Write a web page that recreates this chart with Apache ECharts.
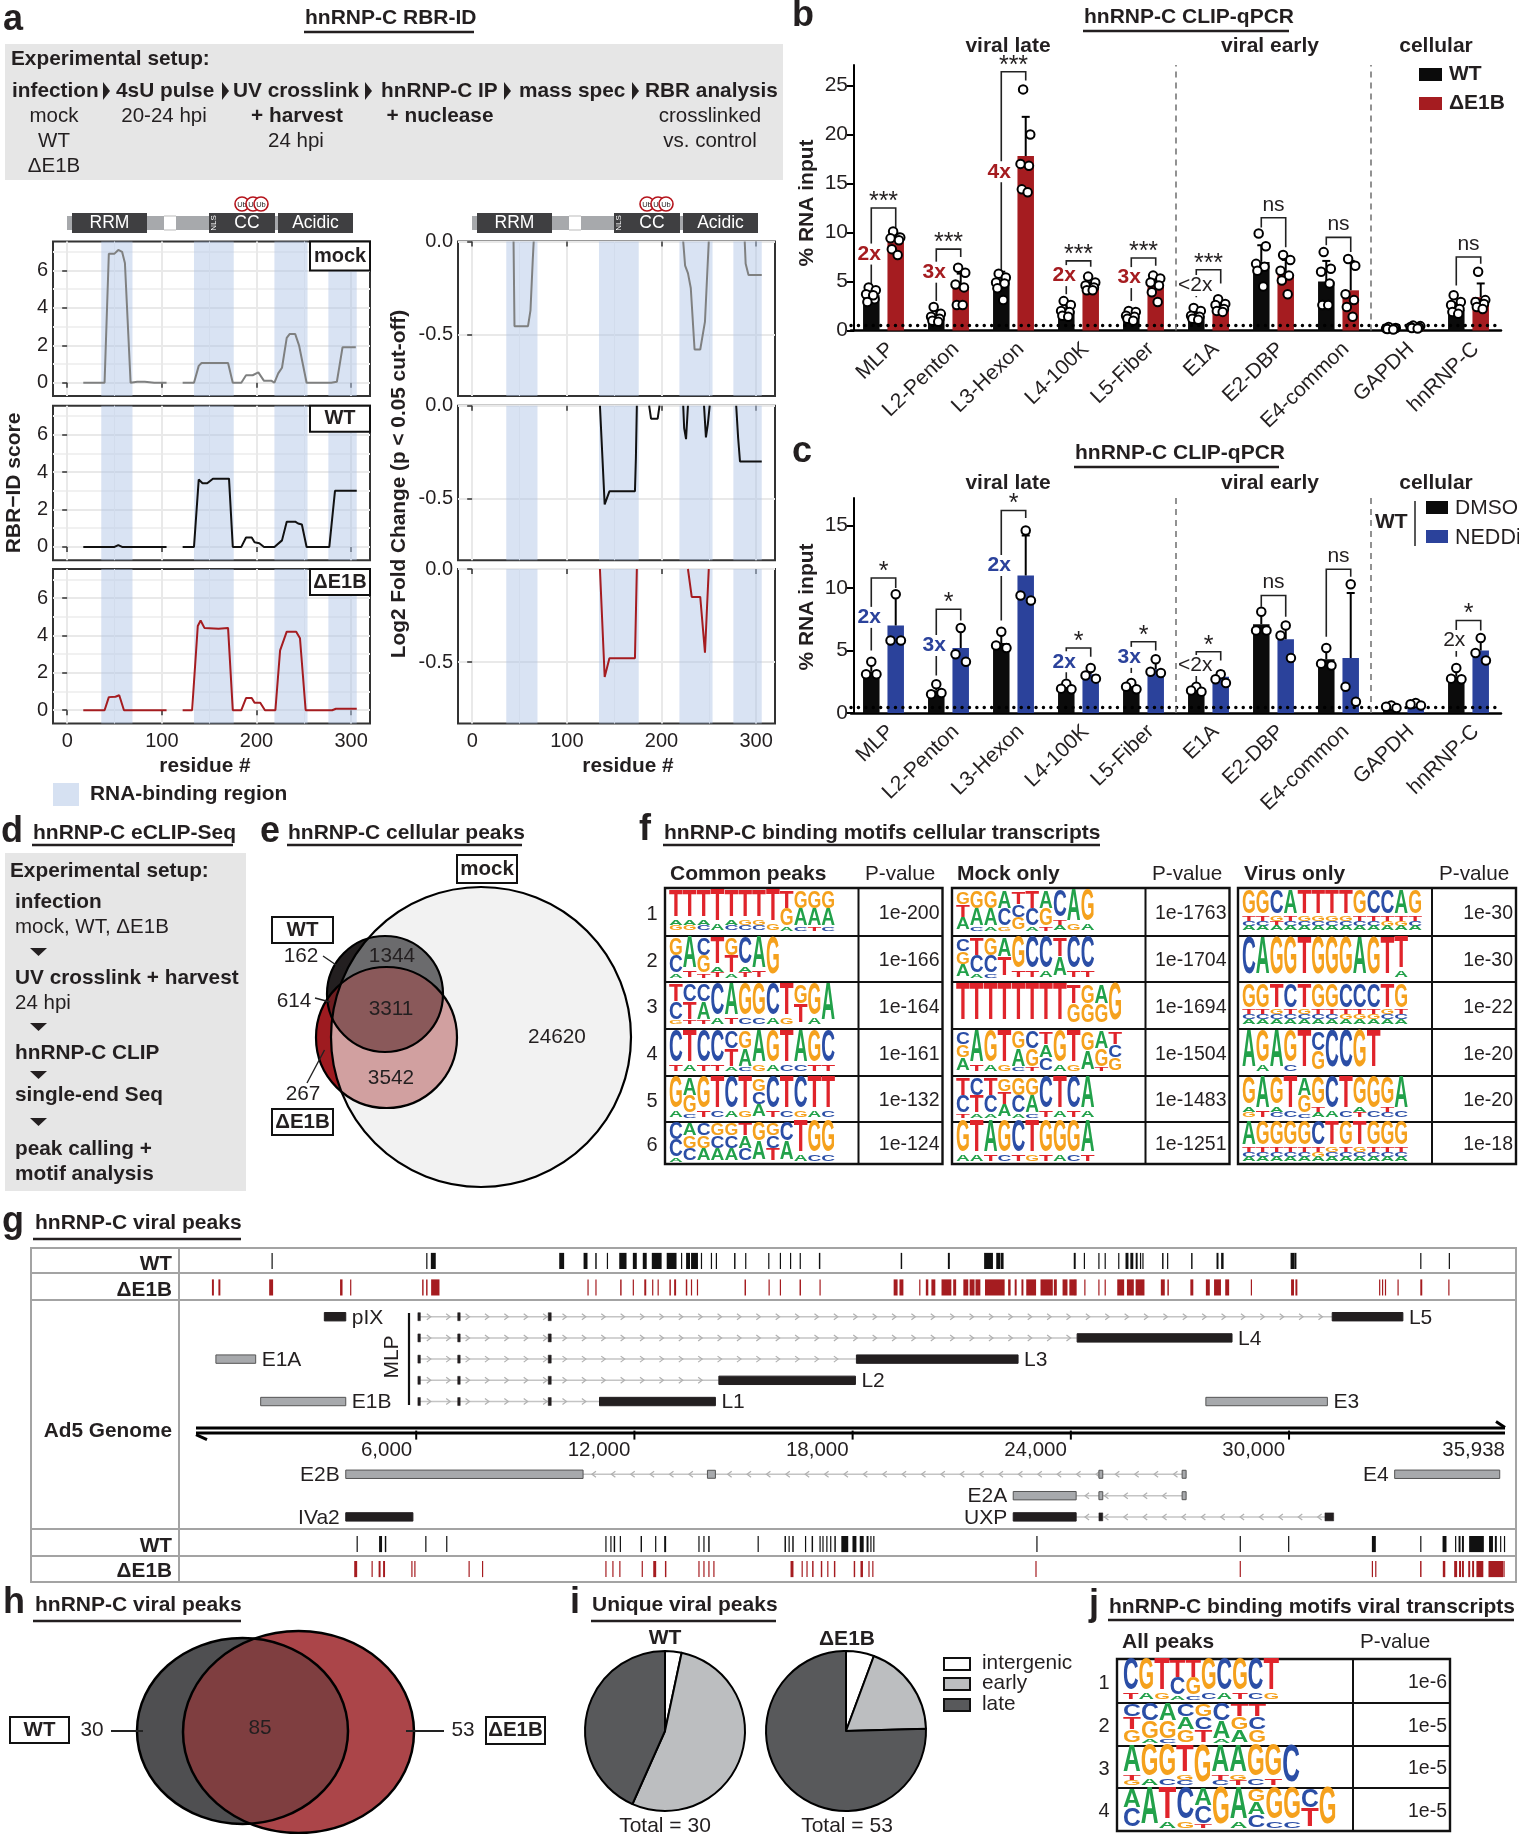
<!DOCTYPE html>
<html><head><meta charset="utf-8"><title>hnRNP-C figure</title>
<script src="https://cdn.jsdelivr.net/npm/echarts@6/dist/echarts.min.js"></script>
<style>html,body{margin:0;padding:0;background:#fff}#c{width:1519px;height:1834px}</style></head>
<body><div id="c"></div>
<script>
// ---------- panel a data ----------
const rbdStart=[36,134,219,276], rbdEnd=[69,176,254,306];
const rbrMock=[[17,0],[39.5,0],[44,6.9],[50,6.9],[54,7.1],[58,7.0],[61,6.4],[67,0],[74,.05],[82,.05],[92,0],[105,0],[113,null],[122,0],[134,0],[139,.9],[142,1.05],[170,1.05],[175,0],[184,0],[189,.4],[196,.4],[202,.55],[208,.1],[216,.1],[219,0],[223,.5],[227,.8],[232,2.4],[235,2.6],[241,2.6],[245,2.0],[247,2.0],[253,0],[279,0],[285,.05],[291,1.9],[305,1.9]];
const rbrWT=[[17,0],[50,0],[54,.1],[58,0],[105,0],[113,null],[122,0],[134,0],[139,3.6],[143,3.4],[148,3.4],[154,3.65],[171,3.65],[175,0],[184,0],[189,.5],[195,.5],[198,.25],[203,.2],[208,0],[219,0],[227,.35],[232,1.35],[241,1.35],[244,1.25],[248,1.2],[253,0],[277,0],[283,3.0],[306,3.0]];
const rbrDE=[[17,0],[39.5,0],[44,.7],[51,.72],[55,.8],[60,0],[105,0],[113,null],[122,0],[132,0],[134,.1],[138,4.5],[141,4.8],[145,4.4],[160,4.35],[170,4.4],[175,0],[184,0],[189,.65],[195,.65],[198,.4],[204,.4],[209,0],[220,0],[225,3.2],[227,3.2],[232,4.2],[242,4.2],[246,3.85],[248,3.85],[252,0],[280,0],[284,.08],[306,.08]];
const fcMock=[[43.7,0],[44.7,-.455],[59,-.455],[61.6,-.37],[64,-.1],[65,0],[140,null],[223,0],[225,-.13],[228,-.17],[231,-.25],[235,-.58],[241,-.58],[246,-.43],[248,-.43],[250,0],[270,null],[288,0],[289,-.12],[292,-.18],[306,-.18]];
const fcWT=[[135,0],[140,-.53],[145,-.46],[172,-.46],[173,-.28],[174,0],[180,null],[187,0],[189,-.07],[196,-.07],[198,0],[210,null],[223,0],[224,-.12],[226,-.18],[228,0],[236,null],[245,0],[247,-.17],[249,-.1],[251,0],[265,null],[279,0],[281,-.17],[283,-.3],[306,-.3]];
const fcDE=[[135,0],[140,-.58],[145,-.48],[172,-.48],[174,0],[200,null],[228,0],[232,-.15],[241,-.15],[246,-.45],[247,-.46],[250,0]];
// ---------- panels b, c data ----------
const cats=['MLP','L2-Penton','L3-Hexon','L4-100K','L5-Fiber','E1A','E2-DBP','E4-common','GAPDH','hnRNP-C'];
const bTicks=[0,5,10,15,20,25], cTicks=[0,5,10,15];
const bWT=[3.6,1.5,5.1,2.0,1.5,1.5,7.0,5.0,.2,2.1];
const bDE=[9.0,4.4,17.8,4.4,4.7,2.5,5.7,4.1,.3,3.4];
const bWTsd=[.6,.6,.9,.6,.4,.4,1.7,2.1,.1,.7];
const bDEsd=[.9,1.4,4.0,.5,.9,.5,1.5,3.0,.1,1.4];
const bWTpts=[[4.4,4.1,3.7,3.2,2.9,3.6],[2.4,1.7,1.4,1.2,1.0,.9],[5.8,5.4,4.9,4.8,4.3,3.1],[3.0,2.6,2.0,1.9,1.5,1.4],[2.0,1.9,1.5,1.4,1.2,1.0],[2.3,2.0,1.5,1.4,1.2,1.1],[9.9,8.6,6.8,6.5,6.1,4.5],[8.0,6.3,6.0,4.8,2.6,2.6],[.35,.25,.2,.2,.15,.1],[3.6,2.9,2.6,2.2,1.9,1.7]];
const bDEpts=[[10.1,9.5,9.4,9.2,8.3,7.7],[6.4,5.9,4.7,4.4,2.6,2.6],[24.6,20,17,16.8,14.4,14.1],[5.5,4.9,4.6,4.4,4.1,4.1],[5.6,5.3,4.9,4.6,3.9,2.9],[3.2,2.7,2.6,2.2,2.0,1.9],[7.7,7.2,6.1,5.6,5.1,3.7],[7.3,6.6,3.7,3.1,2.4,1.4],[.5,.45,.35,.3,.25,.2],[6.0,3.1,2.9,2.7,2.4,2.2]];
const bBrTop=[12.5,8.3,26.4,7.1,7.4,6.2,11.5,9.5,null,7.5];
const bBrL=[4.75,3.0,6.1,3.7,3.0,3.4,10.5,8.7,null,4.6];
const bBrR=[10.5,7.5,25.5,6.5,6.6,4.8,8.5,8.0,null,6.8];
const bSig=['***','***','***','***','***','***','ns','ns','','ns'];
const bFold=['2x','3x','4x','2x','3x','<2x','','','',''];
const bFoldY=[7.8,5.95,16.2,5.6,5.4,4.6,0,0,0,0];
const cWT=[3.3,1.8,5.6,2.0,2.0,1.9,7.1,4.3,.4,2.9];
const cNE=[7.0,5.2,11.0,3.1,3.5,2.9,5.9,4.4,.6,5.0];
const cWTsd=[.9,.5,.7,.3,.3,.3,1.0,1.0,.1,.7];
const cNEsd=[2.5,1.5,3.2,.5,.7,.4,1.3,5.2,.1,.9];
const cWTpts=[[4.1,3.1,3.1],[2.3,1.5,1.6],[6.5,5.4,5.2],[2.35,1.95,1.9],[2.4,2.1,1.9],[2.1,1.8,1.7],[8.1,6.6,6.6],[5.2,3.95,3.8],[.6,.5,.4],[3.6,2.75,2.7]];
const cNEpts=[[9.5,5.8,5.8],[6.8,4.7,4.1],[14.6,9.4,9.0],[3.6,3.0,2.75],[4.3,3.3,3.2],[3.1,2.7,2.4],[7.0,6.2,4.4],[10.3,2.1,.9],[.8,.7,.6],[6.0,4.8,4.2]];
const cBrTop=[10.8,8.3,16.2,5.2,5.7,4.9,9.4,11.5,null,7.4];
const cBrL=[5.0,3.0,7.4,2.75,3.2,2.2,8.5,6.1,null,4.5];
const cBrR=[10,7.4,15.6,4.5,5.0,4.2,7.7,10.9,null,6.6];
const cSig=['*','*','*','*','*','*','ns','ns','','*'];
const cFold=['2x','3x','2x','2x','3x','<2x','','','','2x'];
const cFoldY=[7.65,5.4,11.8,4.1,4.45,3.8,0,0,0,5.8];
const cFoldBlack=[0,0,0,0,0,1,0,0,0,1];
// ---------- panel e, h, i data ----------
const vennEcx=[181,85,86.5], vennEcy=[157,114,157.5], vennEr=[150,58,70.5];
const vennHcx=[112.5,168.5], vennHcy=[101,102], vennHrx=[105.5,115.5], vennHry=[93,101];
const pieNames=['intergenic','early','late'];
const pieWT=[1,16,13], pieDE=[3,10,40];
// ---------- panels f, j data (letter columns: upper = large, lower = small) ----------
const motifCommon=['Tag Tag Tac Ta Tac Tgc Tgc Tg TGa GAc GAt GAc','GCa At CGt Tat GTa Cat At G','TCg CTt CAt Ca At Gc Gc Ca Tg GT Ga A','Ct Ta Ct Ct CTa GAc Ag Ga Tc Ac Gt Ct','Ga AGc Gt Tc Ca Tg GCA Ct Tc Cg Ta Tc','CCa AGC CGA GCA GCA TAC GA GCT CA Ta Gc Gc'];
const motifMock=['GTA GAc GAa ACg TCG TCa AGt Cta Ag Ga','CGA TCa GCc AT Gt Ct Ca TA Ct Ct','T T T T T T T T TG GG AG G','CGA At Ga Tg GAc CGt TAC Ga Tg GA AGt TCG','TCt CTa TCa GTA GCa GAc Ct Ta Ct Aa','Ga Ta At Gc Ct Tg Gt Ga Gc At'];
const motifVirus=['Gtca Gtca Cgta Atca Tgca Tgca Tgca Tgca Gtca Ctca Ctga Atga Gtca','C A G G T G G G A G T Ta','Gtca Gtca Tgca Ctca Tgca Gtca Gtca Ctga Ctga Ctga Tgca Gtca','A Ga A Gc T CG C C G T','Gag At Gac Tc AGc Gta Ca Tc Gat Gc Gtc Ac','Atca Gtca Gtca Gtca Gtca Ctga Tgca Gtca Tgca Gtca Gtca Gtca'];
const motifViral=['Ct Ga Tg TCa TGc Gc Ca Gt Cc Tg','CTG CGa AGc CAG GCT CAa TGA TCG','Atg Ga Gc Tgc G Atc Agt Gc Gt C','AC A Ta Cg ACt G Aa GAC Gc Gc CT G'];
const pCommon=['1e-200','1e-166','1e-164','1e-161','1e-132','1e-124'];
const pMock=['1e-1763','1e-1704','1e-1694','1e-1504','1e-1483','1e-1251'];
const pVirus=['1e-30','1e-30','1e-22','1e-20','1e-20','1e-18'];
const pViral=['1e-6','1e-5','1e-5','1e-5'];
// ---------- panel g data (genome position, peak width in bp) ----------
const peaksTopWT=[[2038,20],[6292,14],[6470,135],[10000,135],[10656,108],[10943,40],[11258,27],[11683,200],[12011,108],[12284,108],[12613,270],[13023,270],[13297,27],[13475,108],[13652,190],[13844,14],[14118,27],[14254,27],[14760,40],[15061,27],[15695,27],[16014,27],[16294,27],[16560,27],[17092,40],[19342,40],[20646,54],[21737,243],[22003,108],[22110,81],[24107,54],[24373,27],[24772,27],[24945,27],[25318,27],[25544,81],[25677,81],[25810,54],[25917,27],[25983,27],[26529,40],[26662,27],[27327,40],[28033,54],[28166,68],[30096,108],[30176,54],[33623,27],[34408,27]];
const peaksTopDE=[[410,54],[588,54],[2011,108],[3940,68],[4199,27],[6183,40],[6292,40],[6525,230],[10725,14],[10943,14],[11628,40],[11970,27],[12298,54],[12503,27],[12653,27],[12982,40],[13119,54],[13433,40],[13570,27],[13734,27],[15048,40],[15704,27],[16014,27],[16560,40],[17105,27],[19182,108],[19342,108],[19847,27],[20047,68],[20220,108],[20579,270],[20806,81],[21112,135],[21285,135],[21445,135],[21910,540],[22310,68],[22483,54],[22669,54],[22909,270],[23335,338],[23574,81],[23840,135],[24040,162],[24133,54],[24386,14],[24772,27],[24945,27],[25371,190],[25637,190],[25903,243],[26529,108],[26675,40],[27327,81],[27767,108],[28033,190],[28299,108],[28965,14],[30096,81],[30202,54],[32492,27],[32572,27],[32652,27],[32998,14],[33636,54],[34395,27]];
const peaksBotWT=[[4377,14],[5020,81],[5157,40],[6265,27],[6840,14],[11217,14],[11354,27],[11450,40],[11614,27],[12189,40],[12585,27],[12845,54],[13775,27],[13912,27],[14049,40],[15403,14],[16147,40],[16254,27],[16360,40],[16706,27],[16892,40],[17105,14],[17185,27],[17292,27],[17398,27],[17518,40],[17784,190],[18050,108],[18250,108],[18410,54],[18503,27],[18583,27],[23068,14],[28659,14],[29990,14],[32332,108],[33623,27],[34275,108],[34581,27],[34688,54],[34781,54],[35154,405],[35553,108],[35686,54],[35819,27],[35925,14]];
const peaksBotDE=[[4336,81],[4788,14],[4993,54],[5116,54],[5882,27],[5964,14],[7455,14],[7825,14],[11217,27],[11409,27],[11600,27],[12216,14],[12558,81],[12859,40],[13775,27],[13912,27],[14049,27],[14186,27],[16333,81],[16613,27],[16746,27],[16906,40],[17145,40],[17318,27],[17505,40],[18050,40],[18250,68],[18450,27],[18556,27],[23042,14],[28659,14],[32292,14],[32385,14],[33623,40],[34262,68],[34581,81],[34701,54],[34781,54],[34954,54],[35061,54],[35247,190],[35686,405],[35859,27],[35912,14]];
const geneNames=['E1A','E1B','pIX','IVa2','E2B','L1','L2','L3','L4','L5','E3','E4','E2A','UXP'];
const geneStart=[492,1723,3474,4063,4063,11040,14322,18104,24173,31187,27713,32904,22416,22416];
const geneEnd=[1586,4063,4063,5909,10588,14227,18077,22549,28432,33130,31054,35793,24146,24146];
const geneRow=[2,4,0,9.44,7.43,4,3,2,1,0,4,7.43,8.44,9.44];
const geneGray=[1,1,0,0,1,0,0,0,0,0,1,1,1,0];
const geneLabelLeft=[0,0,0,1,1,0,0,0,0,0,0,1,1,1];
const exons=[[6046,6101,0,0],[7141,7209,0,0],[9630,9713,0,0],[6046,6101,1,0],[7141,7209,1,0],[9630,9713,1,0],[6046,6101,2,0],[7141,7209,2,0],[9630,9713,2,0],[6046,6101,3,0],[7141,7209,3,0],[9630,9713,3,0],[6046,6101,4,0],[7141,7209,4,0],[9630,9713,4,0],[14008,14227,7.43,1],[24772,24878,7.43,1],[27060,27170,7.43,1],[24772,24878,8.44,1],[27060,27170,8.44,1],[24772,24878,9.44,0],[30987,31227,9.44,0]];
const introns=[[6046,31187,0,1],[6046,24173,1,1],[6046,18104,2,1],[6046,14322,3,1],[6046,11040,4,1],[10588,27170,7.43,-1],[24146,27170,8.44,-1],[24146,31227,9.44,-1]];
const genomeTicks=[6000,12000,18000,24000,30000,35938];
const genomeTickLabels=['6,000','12,000','18,000','24,000','30,000','35,938'];

// ---------- styling ----------
const FF='"Liberation Sans"', INK='#231f20', RED='#a51c20', BLUE='#2b429b', BAND='rgba(176,197,230,.48)';
const grids=[],xAxes=[],yAxes=[],series=[],G=[];
function font(o){return (o.i?'italic ':'')+(o.b?'bold ':'')+(o.s||20.5)+'px '+FF;}
function T(x,y,s,o){o=o||{};G.push({type:'text',x:x,y:y,rotation:o.rot||0,silent:true,z:50,style:{text:s,fill:o.c||INK,font:font(o),align:o.a||'left',verticalAlign:'middle'}});}
function R(x,y,w,h,fill,stroke,lw){G.push({type:'rect',silent:true,z:50,shape:{x:x,y:y,width:w,height:h},style:{fill:fill||'none',stroke:stroke||'none',lineWidth:lw||1}});}
function L(x1,y1,x2,y2,c,lw){G.push({type:'line',silent:true,z:50,shape:{x1:x1,y1:y1,x2:x2,y2:y2},style:{stroke:c||INK,lineWidth:lw||2}});}
function Tri(pts,c){G.push({type:'polygon',silent:true,z:50,shape:{points:pts},style:{fill:c||INK}});}
function Circ(x,y,r,fill,stroke,lw){G.push({type:'circle',silent:true,z:50,shape:{cx:x,cy:y,r:r},style:{fill:fill,stroke:stroke,lineWidth:lw}});}
function title(x1,x2,y,uy,s,tx){T(tx!==undefined?tx:x1+1,y,s,{b:1,s:21});L(x1,uy,x2,uy,INK,2.5);}
function letter(x,y,s){T(x,y,s,{b:1,s:36,a:'center'});}

// ---------- panel a charts ----------
function rbrPanel(left,top,data,color,isRight,showX){
  const g=grids.push({left:left,top:top,width:317,height:154.5,show:true,borderColor:'#333',borderWidth:2,backgroundColor:'transparent'})-1;
  const xMaj={type:'value',gridIndex:g,min:-15,max:320,position:'bottom',axisLine:{show:false},
    axisTick:{show:true,length:5,lineStyle:{color:'#333',width:1.5},customValues:[0,100,200,300]},
    axisLabel:{show:showX,customValues:[0,100,200,300],fontSize:20,fontFamily:FF,color:INK,margin:8},
    splitLine:{show:true,lineStyle:{color:'#e9e9e9',width:2}}};
  const xi=xAxes.push(xMaj)-1;
  xAxes.push({type:'value',gridIndex:g,min:-15,max:320,position:'bottom',axisLine:{show:false},axisTick:{show:false,customValues:[50,150,250]},axisLabel:{show:false},splitLine:{show:true,lineStyle:{color:'#f1f1f1',width:1}}});
  const ymin=isRight?-.83:-.71, ymax=isRight?0:7.55, maj=isRight?[0,-.5]:[0,2,4,6], min=isRight?[]:[1,3,5,7];
  const yi=yAxes.push({type:'value',gridIndex:g,min:ymin,max:ymax,axisLine:{show:false},
    axisTick:{show:true,length:5,lineStyle:{color:'#333',width:1.5},customValues:maj},
    axisLabel:{show:true,customValues:maj,fontSize:20,fontFamily:FF,color:INK,margin:5,formatter:isRight?(v=>v===0?'0.0':v.toFixed(1)):(v=>String(v))},
    splitLine:{show:true,lineStyle:{color:'#e9e9e9',width:2}}})-1;
  if(min.length) yAxes.push({type:'value',gridIndex:g,min:ymin,max:ymax,axisLine:{show:false},axisTick:{show:false,customValues:min},axisLabel:{show:false},splitLine:{show:true,lineStyle:{color:'#f1f1f1',width:2}}});
  series.push({type:'line',xAxisIndex:xi,yAxisIndex:yi,data:data,showSymbol:false,connectNulls:false,lineStyle:{color:color,width:2},itemStyle:{color:color},silent:true,z:3,
    markArea:{silent:true,itemStyle:{color:BAND},data:rbdStart.map((s,i)=>[{xAxis:s},{xAxis:rbdEnd[i]}])}});
}
const tops=[241.5,405.7,569];
[[rbrMock,'#7f8080'],[rbrWT,'#111'],[rbrDE,RED]].forEach((d,i)=>rbrPanel(53,tops[i],d[0],d[1],false,i===2));
[[fcMock,'#7f8080'],[fcWT,'#111'],[fcDE,RED]].forEach((d,i)=>rbrPanel(458,tops[i],d[0],d[1],true,i===2));

// ---------- panels b, c charts ----------
const jit6=[-.04,.07,-.08,.05,-.06,.03], jit3=[0,-.08,.08];
function qpcr(top,height,ymax,yTicks,wt,other,wtSd,otherSd,wtPts,otherPts,brTop,brL,brR,sig,fold,foldY,foldColor,otherColor,jit){
  const g=grids.push({left:851,top:top,width:650,height:height})-1;
  const xc=xAxes.push({type:'category',gridIndex:g,data:cats,axisLine:{lineStyle:{color:'#000',width:2.5}},
    axisTick:{alignWithLabel:true,length:7,lineStyle:{color:'#000',width:2}},
    axisLabel:{rotate:44,interval:0,fontSize:21,fontFamily:FF,color:INK,margin:8,verticalAlign:'top'}})-1;
  const xv=xAxes.push({type:'value',gridIndex:g,min:0,max:10,show:false})-1;
  const yi=yAxes.push({type:'value',gridIndex:g,min:0,max:ymax,offset:-3,axisLine:{show:true,lineStyle:{color:'#000',width:2}},
    axisTick:{show:true,length:7,lineStyle:{color:'#000',width:2},customValues:yTicks},
    axisLabel:{customValues:yTicks,fontSize:21,fontFamily:FF,color:INK,margin:6},splitLine:{show:false}})-1;
  series.push({type:'scatter',xAxisIndex:xv,yAxisIndex:yi,data:[],silent:true,z:1,
    markLine:{silent:true,symbol:'none',label:{show:false},lineStyle:{type:[.1,7.3],cap:'round',width:3.4,color:'#000'},data:[{yAxis:.5}]}});
  series.push({type:'bar',xAxisIndex:xc,yAxisIndex:yi,data:wt,barWidth:16.5,barGap:'48%',itemStyle:{color:'#0b0b0b'},silent:true,z:2});
  series.push({type:'bar',xAxisIndex:xc,yAxisIndex:yi,data:other,barWidth:16.5,barGap:'48%',itemStyle:{color:otherColor},silent:true,z:2});
  const off=.188;
  const errData=[];
  wt.forEach((v,i)=>errData.push([i+.5-off,v,v+wtSd[i]]));
  other.forEach((v,i)=>errData.push([i+.5+off,v,v+otherSd[i]]));
  series.push({type:'custom',xAxisIndex:xv,yAxisIndex:yi,data:errData,encode:{x:0,y:[1,2]},clip:false,silent:true,z:3,
    renderItem:(p,api)=>{const a=api.coord([api.value(0),api.value(1)]),b=api.coord([api.value(0),api.value(2)]);
      return {type:'group',children:[{type:'line',shape:{x1:a[0],y1:a[1],x2:b[0],y2:b[1]},style:{stroke:'#000',lineWidth:2}},{type:'line',shape:{x1:a[0]-4,y1:b[1],x2:a[0]+4,y2:b[1]},style:{stroke:'#000',lineWidth:2}}]};}});
  const idx=[];brTop.forEach((v,i)=>{if(v!==null)idx.push(i)});
  series.push({type:'custom',xAxisIndex:xv,yAxisIndex:yi,data:idx.map(i=>[i+.5,brTop[i]]),clip:false,silent:true,z:4,
    renderItem:(p,api)=>{const i=idx[p.dataIndex];const xl=i+.5-off,xr=i+.5+off;
      const tl=api.coord([xl,brTop[i]]),tr=api.coord([xr,brTop[i]]),bl=api.coord([xl,brL[i]]),br=api.coord([xr,brR[i]]);
      const st={stroke:'#222',lineWidth:1.6};
      const kids=[{type:'polyline',shape:{points:[bl,tl,tr,br]},style:Object.assign({fill:'none'},st)}];
      const isNs=sig[i]==='ns';
      kids.push({type:'text',style:{text:sig[i],x:(tl[0]+tr[0])/2,y:tl[1]-(isNs?13:6),fill:INK,font:(isNs?21:25)+'px '+FF,align:'center',verticalAlign:'middle'}});
      if(fold[i]){const f=api.coord([xl,foldY[i]]);const col=foldColor(i);
        kids.push({type:'text',style:{text:fold[i],x:f[0]-(fold[i].length>2?1:2),y:f[1],fill:col,font:(col===INK?'':'bold ')+'21px '+FF,align:'center',verticalAlign:'middle',backgroundColor:'#fff'}});}
      return {type:'group',children:kids};}});
  const pts=[];
  wtPts.forEach((a,i)=>a.forEach((v,j)=>pts.push([i+.5-off+jit[j],v])));
  otherPts.forEach((a,i)=>a.forEach((v,j)=>pts.push([i+.5+off+jit[j],v])));
  series.push({type:'scatter',xAxisIndex:xv,yAxisIndex:yi,data:pts,symbolSize:8.5,clip:false,silent:true,z:5,itemStyle:{color:'#fff',borderColor:'#000',borderWidth:2,opacity:1},
    markLine:{silent:true,symbol:'none',label:{show:false},lineStyle:{type:[6,5],color:'#777',width:1.6},data:[{xAxis:5},{xAxis:8}]}});
}
qpcr(65,265.5,27.09,bTicks,bWT,bDE,bWTsd,bDEsd,bWTpts,bDEpts,bBrTop,bBrL,bBrR,bSig,bFold,bFoldY,i=>bFold[i]==='<2x'?INK:RED,RED,jit6);
qpcr(498,215,17.2,cTicks,cWT,cNE,cWTsd,cNEsd,cWTpts,cNEpts,cBrTop,cBrL,cBrR,cSig,cFold,cFoldY,i=>cFoldBlack[i]?INK:BLUE,BLUE,jit3);

// ---------- panel e venn ----------
(function(){
  const g=grids.push({left:300,top:880,width:340,height:320})-1;
  const xi=xAxes.push({type:'value',gridIndex:g,min:0,max:340,show:false})-1;
  const yi=yAxes.push({type:'value',gridIndex:g,min:0,max:320,inverse:true,show:false})-1;
  series.push({type:'custom',xAxisIndex:xi,yAxisIndex:yi,data:[[0,0]],clip:false,silent:true,z:3,renderItem:(p,api)=>{
    const c=vennEcx.map((x,i)=>{const q=api.coord([x,vennEcy[i]]);return {cx:q[0],cy:q[1],r:api.size([vennEr[i],0])[0]};});
    const disk=(s,fill,clip)=>({type:'circle',shape:s,style:{fill:fill},clipPath:clip?{type:'circle',shape:clip}:undefined});
    const ring=s=>({type:'circle',shape:s,style:{fill:'none',stroke:'#000',lineWidth:2.2}});
    return {type:'group',children:[disk(c[2],'#9e1b20'),disk(c[1],INK),disk(c[1],'#6e1d20',c[2]),disk(c[0],'#f2f2f2'),disk(c[1],'#6b6b6d',c[0]),disk(c[2],'rgba(172,69,69,.474)',c[0]),ring(c[0]),ring(c[1]),ring(c[2])]};
  }});
})();
// ---------- panel h venn ----------
(function(){
  const g=grids.push({left:130,top:1630,width:300,height:204})-1;
  const xi=xAxes.push({type:'value',gridIndex:g,min:0,max:300,show:false})-1;
  const yi=yAxes.push({type:'value',gridIndex:g,min:0,max:204,inverse:true,show:false})-1;
  series.push({type:'custom',xAxisIndex:xi,yAxisIndex:yi,data:[[0,0]],clip:false,silent:true,z:3,renderItem:(p,api)=>{
    const c=vennHcx.map((x,i)=>{const q=api.coord([x,vennHcy[i]]);const sz=api.size([vennHrx[i],vennHry[i]]);return {cx:q[0],cy:q[1],rx:sz[0],ry:sz[1]};});
    const e=(s,fill,clip)=>({type:'ellipse',shape:s,style:{fill:fill},clipPath:clip?{type:'ellipse',shape:clip}:undefined});
    const ring=s=>({type:'ellipse',shape:s,style:{fill:'none',stroke:'#000',lineWidth:2.5}});
    return {type:'group',children:[e(c[0],'#4f4f51'),e(c[1],'#ab4549'),e(c[0],'#7f3e40',c[1]),ring(c[0]),ring(c[1])]};
  }});
})();
// ---------- panel i pies ----------
function pie(cx,vals){series.push({type:'pie',center:[cx,1731],radius:[0,80],startAngle:90,clockwise:true,silent:true,label:{show:false},labelLine:{show:false},emphasis:{disabled:true},
  itemStyle:{borderColor:'#000',borderWidth:2},data:vals.map((v,i)=>({name:pieNames[i],value:v,itemStyle:{color:['#fff','#bcbec0','#58595b'][i]}}))});}
pie(665,pieWT);pie(846,pieDE);

// ---------- panel g tracks ----------
(function(){
  const g=grids.push({left:198,top:1248,width:1307,height:334})-1;
  const xi=xAxes.push({type:'value',gridIndex:g,min:0,max:35938,show:false})-1;
  const yi=yAxes.push({type:'value',gridIndex:g,min:-3.24,max:12.51,inverse:true,show:false})-1;
  const base={type:'custom',xAxisIndex:xi,yAxisIndex:yi,clip:false,silent:true,z:3};
  function track(data,row,color){series.push(Object.assign({},base,{data:data,encode:{x:0},renderItem:(p,api)=>{
    const c=api.coord([api.value(0),row]);const w=Math.max(1.2,api.size([api.value(1),0])[0]);const h=api.size([0,.76])[1];
    return {type:'rect',shape:{x:c[0]-w/2,y:c[1]-h/2,width:w,height:h},style:{fill:color}};}}));}
  track(peaksTopWT,-2.63,'#111');track(peaksTopDE,-1.38,RED);track(peaksBotWT,10.72,'#111');track(peaksBotDE,11.9,RED);
  series.push(Object.assign({},base,{data:introns,encode:{x:[0,1]},renderItem:(p,api)=>{
    const s=api.value(0),e=api.value(1),r=api.value(2),d=api.value(3);const a=api.coord([s,r]),b=api.coord([e,r]);
    const kids=[{type:'line',shape:{x1:a[0],y1:a[1],x2:b[0],y2:b[1]},style:{stroke:'#c4c4c4',lineWidth:1.5}}];
    for(let v=s+300;v<e-150;v+=533){const c=api.coord([v,r]);kids.push({type:'polyline',shape:{points:[[c[0]-2*d,c[1]-3],[c[0]+2*d,c[1]],[c[0]-2*d,c[1]+3]]},style:{fill:'none',stroke:'#b0b0b0',lineWidth:1.2}});}
    return {type:'group',children:kids};}}));
  series.push(Object.assign({},base,{data:exons,encode:{x:[0,1]},renderItem:(p,api)=>{
    const a=api.coord([api.value(0),api.value(2)]),b=api.coord([api.value(1),api.value(2)]);const gray=api.value(3);
    return {type:'rect',shape:{x:a[0],y:a[1]-4,width:Math.max(2.5,b[0]-a[0]),height:8},style:{fill:gray?'#a7a9ac':INK,stroke:gray?'#555':INK,lineWidth:gray?1:.5}};}}));
  series.push(Object.assign({},base,{data:geneStart.map((s,i)=>[s,geneEnd[i],geneRow[i]]),encode:{x:[0,1]},renderItem:(p,api)=>{
    const i=p.dataIndex;const a=api.coord([api.value(0),api.value(2)]),b=api.coord([api.value(1),api.value(2)]);const gray=geneGray[i];const left=geneLabelLeft[i];
    return {type:'group',children:[{type:'rect',shape:{x:a[0],y:a[1]-4.2,width:b[0]-a[0],height:8.4},style:{fill:gray?'#a7a9ac':INK,stroke:gray?'#555':INK,lineWidth:1}},
      {type:'text',style:{text:geneNames[i],x:left?a[0]-6:b[0]+6,y:a[1]+1,fill:INK,font:'21px '+FF,align:left?'right':'left',verticalAlign:'middle'}}]};}}));
  series.push(Object.assign({},base,{data:[[0,35938]],encode:{x:[0,1]},renderItem:(p,api)=>{
    const a=api.coord([0,5.37]),b=api.coord([35938,5.37]);const st={stroke:'#000',lineWidth:3};
    return {type:'group',children:[{type:'line',shape:{x1:a[0]-2,y1:a[1]-2.5,x2:b[0],y2:b[1]-2.5},style:st},{type:'line',shape:{x1:a[0]-2,y1:a[1]+2.5,x2:b[0],y2:b[1]+2.5},style:st},
      {type:'line',shape:{x1:a[0]-2,y1:a[1]+4,x2:a[0]+9,y2:a[1]+9},style:st},{type:'line',shape:{x1:b[0]-9,y1:b[1]-9,x2:b[0],y2:b[1]-3},style:st}]};}}));
  series.push(Object.assign({},base,{data:genomeTicks.map(v=>[v]),encode:{x:0},renderItem:(p,api)=>{
    const c=api.coord([api.value(0),5.37]);const i=p.dataIndex;const last=i===genomeTicks.length-1;
    const kids=[{type:'text',style:{text:genomeTickLabels[i],x:c[0]-(last?0:4),y:c[1]+20,fill:INK,font:'20.5px '+FF,align:'right',verticalAlign:'middle'}}];
    if(!last)kids.push({type:'line',shape:{x1:c[0],y1:c[1],x2:c[0],y2:c[1]+9},style:{stroke:'#000',lineWidth:2}});
    return {type:'group',children:kids};}}));
})();

// ---------- panel a annotations ----------
letter(13,20,'a');title(304,474,18,32,'hnRNP-C RBR-ID');
R(5,44,778,136,'#e6e6e6');
T(11,59,'Experimental setup:',{b:1,s:20.8});
[['infection',12],['4sU pulse',116],['UV crosslink',233],['hnRNP-C IP',381],['mass spec',519],['RBR analysis',645]].forEach(a=>T(a[1],91,a[0],{b:1,s:20.8}));
[103,222,365,504,632].forEach(x=>Tri([[x,82],[x+7,91],[x,100]]));
[[54,116,'mock'],[164,116,'20-24 hpi'],[710,116,'crosslinked'],[54,141,'WT'],[296,141,'24 hpi'],[710,141,'vs. control'],[54,166,'ΔE1B']].forEach(a=>T(a[0],a[1],a[2],{a:'center',s:20.5}));
T(297,116,'+ harvest',{a:'center',b:1,s:20.8});T(440,116,'+ nuclease',{a:'center',b:1,s:20.8});
function domains(dx){
  R(67+dx,216,286,14,'#a7a9ac');
  R(164+dx,214,12,18,'#fff');L(164+dx,216,176+dx,216,'#bbb',1);L(164+dx,230,176+dx,230,'#bbb',1);
  [[72,75,'RRM'],[219,56,'CC'],[278,75,'Acidic']].forEach(a=>{R(a[0]+dx,213,a[1],20,'#3f3f41');T(a[0]+a[1]/2+dx,223.5,a[2],{a:'center',c:'#fff',s:17.5});});
  R(209+dx,213,10,20,'#3f3f41');T(214+dx,223,'NLS',{a:'center',c:'#fff',s:8,rot:Math.PI/2});
  [242,253,261].forEach(x=>{Circ(x+dx,204,7,'#fff','#b5141c',1.6);T(x+dx,204.5,'Ub',{a:'center',s:7.5});});
}
domains(0);domains(405);
[['mock',241.5,29],['WT',405.7,26],['ΔE1B',569,26]].forEach(a=>{R(310,a[1],60,a[2],'#fff','#111',2);T(340,a[1]+a[2]/2,a[0],{a:'center',b:1,s:20});});
T(14,483,'RBR−ID score',{b:1,s:21,a:'center',rot:Math.PI/2});
T(399,484,'Log2 Fold Change (p < 0.05 cut-off)',{b:1,s:20.8,a:'center',rot:Math.PI/2});
T(205,766,'residue #',{b:1,s:20.8,a:'center'});T(628,766,'residue #',{b:1,s:20.8,a:'center'});
R(53,783,26,23,'#d6e1f2');T(90,794,'RNA-binding region',{b:1,s:20.9});

// ---------- panels b, c annotations ----------
letter(803,16,'b');title(1083,1289,17,31,'hnRNP-C CLIP-qPCR');
[[1008,'viral late'],[1270,'viral early'],[1436,'cellular']].forEach(a=>T(a[0],46,a[1],{b:1,s:21,a:'center'}));
R(1419,68,23,13,'#0b0b0b');T(1449,74,'WT',{b:1,s:21});R(1419,97,23,13,RED);T(1449,103,'ΔE1B',{b:1,s:21});
T(807,203,'% RNA input',{b:1,s:21,a:'center',rot:Math.PI/2});
letter(802,452,'c');title(1074,1279,453,467,'hnRNP-C CLIP-qPCR');
[[1008,'viral late'],[1270,'viral early'],[1436,'cellular']].forEach(a=>T(a[0],483,a[1],{b:1,s:21,a:'center'}));
T(1375,522,'WT',{b:1,s:21});L(1415,501,1415,546,'#222',1.5);
R(1426,501,22,13,'#0b0b0b');T(1455,508,'DMSO',{s:21});R(1426,530,22,13,BLUE);T(1455,538,'NEDDi',{s:21.5});
T(807,607,'% RNA input',{b:1,s:21,a:'center',rot:Math.PI/2});

// ---------- panel d ----------
letter(12,832,'d');title(32,233,833,845,'hnRNP-C eCLIP-Seq');
R(5,853,241,338,'#e6e6e6');
T(10,871,'Experimental setup:',{b:1,s:20.8});
[[902,'infection',1],[927,'mock, WT, ΔE1B',0],[978,'UV crosslink + harvest',1],[1003,'24 hpi',0],[1053,'hnRNP-C CLIP',1],[1095,'single-end Seq',1],[1149,'peak calling +',1],[1174,'motif analysis',1]].forEach(a=>T(15,a[0],a[1],{b:a[2],s:a[2]?20.8:20.5}));
[948,1023,1071,1118].forEach(y=>Tri([[30,y],[47,y],[38.5,y+8]]));

// ---------- panel e annotations ----------
letter(270,832,'e');title(287,522,833,845,'hnRNP-C cellular peaks');
function box(x,y,w,h,s,sz){R(x,y,w,h,'#fff','#111',2);T(x+w/2,y+h/2,s,{b:1,a:'center',s:sz||20.5});}
box(457,855,60,28,'mock');box(272,917,61,26,'WT');box(272,1109,61,26,'ΔE1B');
[[301,956,'162'],[392,956,'1344'],[294,1001,'614'],[391,1009,'3311'],[303,1094,'267'],[391,1078,'3542'],[557,1037,'24620']].forEach(a=>T(a[0],a[1],a[2],{a:'center',s:20.8}));
L(323,956,342,969,'#222',1.4);L(315,998,330,1002,'#222',1.4);L(307,1083,324.5,1050,'#222',1.4);

// ---------- panels f, j logos ----------
const LW={A:.722,C:.722,G:.778,T:.611}, LC={A:'#22a14a',C:'#2b4ea6',G:'#f5a11d',T:'#e0242b'};
function logo(x0,yTop,h,colW,str){
  str.split(' ').forEach((col,ci)=>{
    const ws=[...col].map(ch=>ch===ch.toUpperCase()?5:1);const sum=ws.reduce((a,b)=>a+b,0);let y=yTop;
    [...col].forEach((ch,k)=>{const up=ch.toUpperCase();const hL=h*ws[k]/sum;const fs=20;
      G.push({type:'text',x:x0+colW*(ci+.5),y:y+hL/2-hL*.02,scaleX:colW/(LW[up]*fs),scaleY:hL/(.729*fs),silent:true,z:51,
        style:{text:up,fill:LC[up],font:'bold '+fs+'px '+FF,align:'center',verticalAlign:'middle'}});
      y+=hL;});
  });
}
function motifTable(x1,x2,x3,rows,motifs,ps,colW,pad,logoH,pSize,numX){
  motifs.forEach((m,i)=>{
    logo(x1+pad,rows[i]+(rows[i+1]-rows[i]-logoH)/2,logoH,Array.isArray(colW)?colW[i]:colW,m);
    T(x3-3,(rows[i]+rows[i+1])/2+2,ps[i],{a:'right',s:pSize||19.5});
    if(numX!==undefined)T(numX,(rows[i]+rows[i+1])/2+2,String(i+1),{a:'center',s:20});
  });
  R(x1,rows[0],x3-x1,rows[rows.length-1]-rows[0],'none','#111',2.4);
  L(x2,rows[0],x2,rows[rows.length-1],'#111',2);
  rows.slice(1,-1).forEach(y=>L(x1,y,x3,y,'#111',2));
}
letter(645,830,'f');title(663,1100,833,845,'hnRNP-C binding motifs cellular transcripts');
const fRows=[888,936,982,1029,1076,1122,1164];
motifTable(665,858.5,942.5,fRows,motifCommon,pCommon,13.85,4,38,19.5,652);
motifTable(952,1145.5,1229.5,fRows,motifMock,pMock,13.85,4,38,19.5);
motifTable(1238,1432,1516,fRows,motifVirus,pVirus,13.85,4,38,19.5);
[[670,'Common peaks',865],[957,'Mock only',1152],[1244,'Virus only',1439]].forEach(a=>{T(a[0],874,a[1],{b:1,s:21});T(a[2],874,'P-value',{s:20.7});});

// ---------- panel g annotations ----------
letter(13,1222,'g');title(33,241,1223,1239,'hnRNP-C viral peaks',35);
R(31,1248,1485,334,'none','#a3a3a3',2);
[1273,1300,1529,1556].forEach(y=>L(31,y,1516,y,'#a3a3a3',2));
L(179,1248,179,1582,'#a3a3a3',2);
[[1264,'WT'],[1290,'ΔE1B'],[1431,'Ad5 Genome'],[1546,'WT'],[1571,'ΔE1B']].forEach(a=>T(172,a[0],a[1],{b:1,s:20.8,a:'right'}));
T(392,1357,'MLP',{s:21,a:'center',rot:Math.PI/2});L(409,1313,409,1405,'#111',2.2);

// ---------- panel h annotations ----------
letter(14,1603,'h');title(33,241,1605,1621,'hnRNP-C viral peaks',35);
box(10,1717,59,26,'WT');box(486,1717,59,27,'ΔE1B');
T(92,1730,'30',{a:'center',s:20.8});T(463,1730,'53',{a:'center',s:20.8});T(260,1728,'85',{a:'center',s:20.8});
L(111,1731,143,1731,'#222',2);L(406,1731,444,1731,'#222',2);

// ---------- panel i annotations ----------
letter(575,1603,'i');title(591,776,1605,1621,'Unique viral peaks',592);
T(665,1638,'WT',{b:1,s:21,a:'center'});T(847,1639,'ΔE1B',{b:1,s:21,a:'center'});
T(665,1826,'Total = 30',{s:21,a:'center'});T(847,1826,'Total = 53',{s:21,a:'center'});
[['#fff',1658],['#bcbec0',1678],['#58595b',1699]].forEach((a,i)=>{R(944,a[1],26,12,a[0],'#111',2);T(982,a[1]+5,pieNames[i],{s:20.8});});

// ---------- panel j ----------
letter(1094,1605,'j');title(1108,1514,1607,1620,'hnRNP-C binding motifs viral transcripts',1109);
T(1122,1642,'All peaks',{b:1,s:21});T(1360,1642,'P-value',{s:20.7});
motifTable(1117,1353,1450,[1659,1703,1746,1788,1831],motifViral,pViral,[15.6,17.9,17.7,17.8],6,38,19.5,1104);

const chart=echarts.init(document.getElementById('c'),null,{renderer:'canvas',width:1519,height:1834});
chart.setOption({animation:false,backgroundColor:'#fff',textStyle:{fontFamily:FF},tooltip:{show:false},
  grid:grids,xAxis:xAxes,yAxis:yAxes,series:series,graphic:{elements:G}});
</script></body></html>
